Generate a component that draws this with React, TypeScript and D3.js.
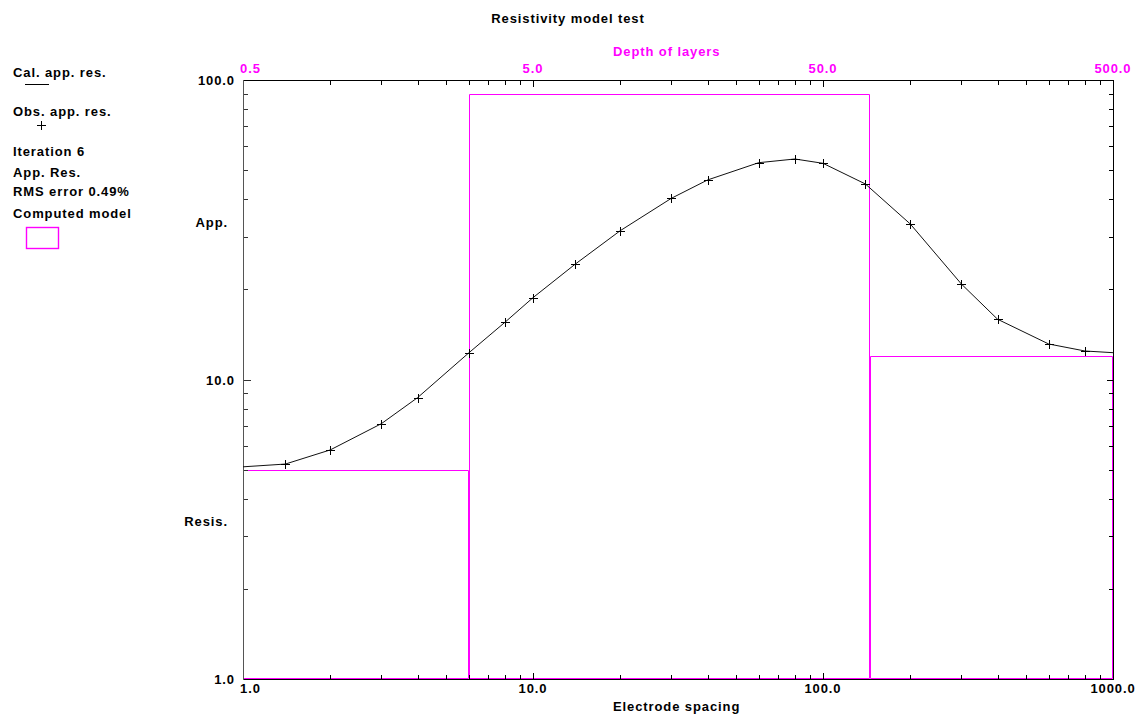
import React from "react";
import * as d3 from "d3";

// ---- data ----
const obsSpacing = [1.4, 2, 3, 4, 6, 8, 10, 14, 20, 30, 40, 60, 80, 100, 140, 200, 300, 400, 600, 800];
const obsRes = [5.22, 5.82, 7.12, 8.7, 12.26, 15.52, 18.76, 24.3, 31.4, 40.27, 46.37, 52.95, 54.48, 52.7, 44.96, 33.05, 20.84, 15.89, 13.14, 12.45];
const calSpacing = [1, 1.4, 2, 3, 4, 6, 8, 10, 14, 20, 30, 40, 60, 80, 100, 140, 200, 300, 400, 600, 800, 1000];
const calRes = [5.11, 5.22, 5.82, 7.12, 8.7, 12.26, 15.52, 18.76, 24.3, 31.4, 40.27, 46.37, 52.95, 54.48, 52.7, 44.96, 33.05, 20.84, 15.89, 13.14, 12.45, 12.29];
const layerRes = [5.0, 90.0, 12.0];
const layerDepth = [3.0, 72.6]; // boundaries (depth)
const bottomTickLabels = ["1.0", "10.0", "100.0", "1000.0"];
const bottomTickValues = [1, 10, 100, 1000];
const topTickLabels = ["0.5", "5.0", "50.0", "500.0"];
const topTickValues = [0.5, 5, 50, 500];
const leftTickLabels = ["1.0", "10.0", "100.0"];
const leftTickValues = [1, 10, 100];
const legendLines = ["Iteration 6", "App. Res.", "RMS error 0.49%", "Computed model"];

const W = 1141, H = 715;
const L = 243, R = 1113, T = 80, B = 679;
const MAG = "#ff00ff";
const FONT = "'Liberation Sans', Arial, sans-serif";

export default function App() {
  const x = d3.scaleLog().domain([1, 1000]).range([L, R]);
  const xd = d3.scaleLog().domain([0.5, 500]).range([L, R]);
  const y = d3.scaleLog().domain([1, 100]).range([B, T]);

  const minorX: number[] = [];
  const minorY: number[] = [];
  for (let k = 0; k < 3; k++) {
    for (let m = 2; m <= 9; m++) minorX.push(m * Math.pow(10, k));
  }
  for (let k = 0; k < 2; k++) {
    for (let m = 2; m <= 9; m++) minorY.push(m * Math.pow(10, k));
  }
  const minorD: number[] = [];
  for (let k = 0; k < 3; k++) {
    for (const m of [1, 1.5, 2, 2.5, 3, 3.5, 4, 4.5]) minorD.push(m * Math.pow(10, k));
  }

  const line = d3
    .line<number>()
    .x((_, i) => x(calSpacing[i]))
    .y((d) => y(d))
    .curve(d3.curveLinear);

  // layer rectangles (each drawn from its resistivity down to the 1.0 line)
  const bounds = [0.5, ...layerDepth, 500];
  const layers = layerRes.map((r, i) => {
    const x0 = Math.round(xd(bounds[i])) + 0.5;
    const x1 = Math.round(xd(bounds[i + 1])) - 0.5;
    const yt = Math.round(y(r)) + 0.5;
    const yb = B - 0.5;
    return `M${x0},${yb}V${yt}H${x1}V${yb}Z`;
  });

  const txt = {
    fontFamily: FONT,
    fontWeight: 700,
    fontSize: 13,
    letterSpacing: "0.9px",
  } as React.CSSProperties;

  const px = (v: number) => Math.round(v) + 0.5;

  return (
    <svg width={W} height={H} style={{ position: "absolute", left: 0, top: 0, background: "#fff" }}>
      <rect x={0} y={0} width={W} height={H} fill="#fff" />
      {/* title */}
      <text x={568} y={23} textAnchor="middle" style={txt} fill="#000">
        Resistivity model test
      </text>
      <text x={613} y={56} style={txt} fill={MAG}>
        Depth of layers
      </text>
      <text x={613} y={711} style={txt} fill="#000">
        Electrode spacing
      </text>

      {/* legend */}
      <text x={13} y={77} style={txt} fill="#000">Cal. app. res.</text>
      <line x1={25} x2={49} y1={84.5} y2={84.5} stroke="#000" strokeWidth={1} />
      <text x={13} y={116} style={txt} fill="#000">Obs. app. res.</text>
      <path d={`M37,125.5H46M41.5,121V130`} stroke="#000" strokeWidth={1} />
      {legendLines.map((s, i) => (
        <text key={s} x={13} y={[156, 177, 196, 218][i]} style={txt} fill="#000">
          {s}
        </text>
      ))}
      <rect x={26.5} y={227.5} width={32} height={21} fill="none" stroke={MAG} strokeWidth={1.4} />

      {/* model layers */}
      {layers.map((d, i) => (
        <path key={i} d={d} fill="none" stroke={MAG} strokeWidth={1} />
      ))}

      {/* axes frame */}
      <g>
        <line x1={L} x2={R + 1} y1={T + 0.5} y2={T + 0.5} stroke="#000" />
        <line x1={L} x2={R + 1} y1={B + 0.5} y2={B + 0.5} stroke="#000" />
        <line x1={R + 0.5} x2={R + 0.5} y1={T} y2={B + 1} stroke="#000" />
        <line x1={L + 0.5} x2={L + 0.5} y1={T} y2={B + 1} stroke="#555" />
        {minorX.map((v) => (
          <line key={"bx" + v} x1={px(x(v))} x2={px(x(v))} y1={B} y2={B - 4} stroke="#000" />
        ))}
        {[10, 100].map((v) => (
          <line key={"bM" + v} x1={px(x(v))} x2={px(x(v))} y1={B} y2={B - 6} stroke="#000" />
        ))}
        {minorD.map((v) => (
          <line key={"tx" + v} x1={px(xd(v))} x2={px(xd(v))} y1={T + 1} y2={T + 5} stroke="#000" />
        ))}
        {[5, 50].map((v) => (
          <line key={"tM" + v} x1={px(xd(v))} x2={px(xd(v))} y1={T + 1} y2={T + 7} stroke="#000" />
        ))}
        {minorY.map((v) => (
          <g key={"y" + v}>
            <line x1={L + 1} x2={L + 5} y1={px(y(v))} y2={px(y(v))} stroke="#333" />
            <line x1={R} x2={R - 4} y1={px(y(v))} y2={px(y(v))} stroke="#000" />
          </g>
        ))}
        {[10].map((v) => (
          <g key={"yM" + v}>
            <line x1={L + 1} x2={L + 8} y1={px(y(v))} y2={px(y(v))} stroke="#333" />
            <line x1={R} x2={R - 6} y1={px(y(v))} y2={px(y(v))} stroke="#000" />
          </g>
        ))}
      </g>

      {/* tick labels */}
      {bottomTickValues.map((v, i) => (
        <text
          key={"bl" + v}
          x={i === 0 ? L - 3 : x(v)}
          y={693}
          textAnchor={i === 0 ? "start" : "middle"}
          style={txt}
          fill="#000"
        >
          {bottomTickLabels[i]}
        </text>
      ))}
      {topTickValues.map((v, i) => (
        <text
          key={"tl" + v}
          x={i === 0 ? L - 3 : xd(v)}
          y={73}
          textAnchor={i === 0 ? "start" : "middle"}
          style={txt}
          fill={MAG}
        >
          {topTickLabels[i]}
        </text>
      ))}
      {leftTickValues.map((v, i) => (
        <text key={"ll" + v} x={235} y={y(v) + 5} textAnchor="end" style={txt} fill="#000">
          {leftTickLabels[i]}
        </text>
      ))}
      <text x={228} y={227} textAnchor="end" style={txt} fill="#000">App.</text>
      <text x={228} y={526} textAnchor="end" style={txt} fill="#000">Resis.</text>

      {/* calculated curve */}
      <path d={line(calRes) || ""} fill="none" stroke="#111" strokeWidth={1} />

      {/* observed points */}
      {obsRes.map((v, i) => {
        const cx = px(x(obsSpacing[i]));
        const cy = px(y(v));
        return (
          <path
            key={"o" + i}
            d={`M${cx - 4.5},${cy}H${cx + 4.5}M${cx},${cy - 4.5}V${cy + 4.5}`}
            stroke="#000"
            strokeWidth={1}
          />
        );
      })}
    </svg>
  );
}
